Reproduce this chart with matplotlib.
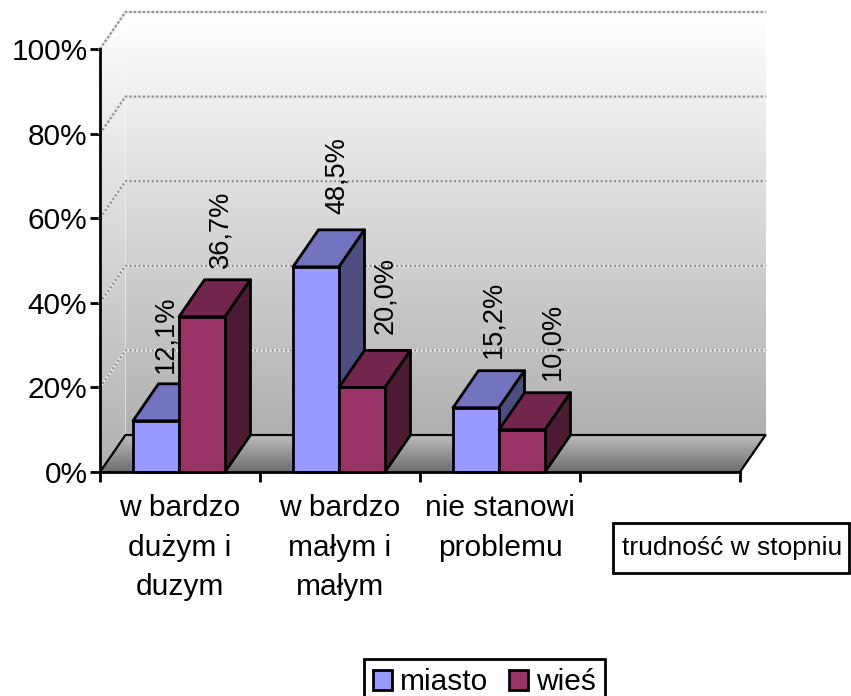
import numpy as np
import matplotlib
matplotlib.use('Agg')
from matplotlib import pyplot as plt
from matplotlib.colors import LinearSegmentedColormap
from matplotlib.patches import Polygon, Patch, Rectangle

plt.rcParams['font.family'] = ['Liberation Sans', 'DejaVu Sans']

categories = ['w bardzo\ndużym i\nduzym', 'w bardzo\nmałym i\nmałym', 'nie stanowi\nproblemu']
miasto = [12.1, 48.5, 15.2]
wies = [36.7, 20.0, 10.0]
miasto_labels = ['12,1%', '48,5%', '15,2%']
wies_labels = ['36,7%', '20,0%', '10,0%']
y_ticks = [0, 20, 40, 60, 80, 100]
y_tick_labels = ['0%', '20%', '40%', '60%', '80%', '100%']

W, H = 851, 696
fig = plt.figure(figsize=(W / 100, H / 100), dpi=100)
ax = fig.add_axes([100 / W, (H - 472) / H, 640 / W, 423 / H])
ax.set_xlim(0, 4)
ax.set_ylim(0, 100)

# depth of the fake 3d box, in data units
dx = 25.5 / 160
dy = 37 / 4.23
bar_w = 46 / 160
bar_start = 33 / 160
font = 21.5
label_font = 19.5

wall_cmap = LinearSegmentedColormap.from_list('wall', ['#b0b0b0', '#ffffff'])
floor_cmap = LinearSegmentedColormap.from_list('floor', ['#6e6e6e', '#bcbcbc'])
grad = np.linspace(0, 1, 256).reshape(-1, 1)

ax.imshow(grad, origin='lower', cmap=wall_cmap, aspect='auto', zorder=1, vmin=0, vmax=1,
          extent=(dx, 4 + dx, dy, 100 + dy), clip_on=False)
side = ax.imshow(grad, origin='lower', cmap=wall_cmap, aspect='auto', zorder=1, vmin=0, vmax=1,
                 extent=(0, dx, 0, 100 + dy))
side.set_clip_path(Polygon([(0, 0), (dx, dy), (dx, 100 + dy), (0, 100)], transform=ax.transData))
side.set_clip_box(fig.bbox)
floor = ax.imshow(grad, origin='lower', cmap=floor_cmap, aspect='auto', zorder=1, vmin=0, vmax=1,
                  extent=(0, 4 + dx, 0, dy))
floor.set_clip_path(Polygon([(0, 0), (4, 0), (4 + dx, dy), (dx, dy)], transform=ax.transData))
floor.set_clip_box(fig.bbox)
ax.set_xlim(0, 4)
ax.set_ylim(0, 100)

# gridlines on back and side wall
for t in y_ticks[1:]:
    ax.plot([0, dx, 4 + dx], [t, t + dy, t + dy], color='#e8e8e8', lw=2, zorder=2, clip_on=False)
    ax.plot([0, dx, 4 + dx], [t, t + dy, t + dy], color='#909090', lw=1.6, ls=(0, (1, 1)), zorder=2, clip_on=False)

# floor edges
ax.plot([0, dx, 4 + dx, 4], [0, dy, dy, 0], color='black', lw=1.6, zorder=3, clip_on=False)


def draw_bar(x, v, front, top, right):
    ec = dict(edgecolor='black', linewidth=2, joinstyle='round', zorder=5, clip_on=False)
    ax.add_patch(Polygon([(x, v), (x + bar_w, v), (x + bar_w + dx, v + dy), (x + dx, v + dy)], facecolor=top, **ec))
    ax.add_patch(Polygon([(x + bar_w, 0), (x + bar_w + dx, dy), (x + bar_w + dx, v + dy), (x + bar_w, v)], facecolor=right, **ec))
    ax.add_patch(Polygon([(x, 0), (x + bar_w, 0), (x + bar_w, v), (x, v)], facecolor=front, **ec))


for i in range(len(categories)):
    draw_bar(i + bar_start, miasto[i], '#9999ff', '#7373bf', '#4d4d80')
    draw_bar(i + bar_start + bar_w, wies[i], '#993366', '#73264d', '#4d1a33')

# value labels sit above the top of each bar, nudged by hand
miasto_nudge = [(9, 11), (21, 16), (17, 13)]
wies_nudge = [(18, 12), (23, 16), (30, 13)]
for i in range(len(categories)):
    for x, v, lab, n in [(i + bar_start + bar_w / 2, miasto[i], miasto_labels[i], miasto_nudge[i]),
                         (i + bar_start + bar_w * 1.5, wies[i], wies_labels[i], wies_nudge[i])]:
        ax.annotate(lab, (x, v + dy), xytext=n, textcoords='offset pixels', rotation=90,
                    ha='center', va='bottom', fontsize=label_font, color='black', zorder=6, annotation_clip=False)

for s in ['top', 'right']:
    ax.spines[s].set_visible(False)
for s in ['left', 'bottom']:
    ax.spines[s].set_linewidth(2)
    ax.spines[s].set_zorder(7)
ax.set_yticks(y_ticks)
ax.set_yticklabels(y_tick_labels, fontsize=font)
ax.set_xticks(range(5))
ax.set_xticklabels([])
ax.tick_params(axis='both', which='major', length=7, width=2, direction='out', pad=2)
ax.set_xticks([0.5, 1.5, 2.5], minor=True)
ax.set_xticklabels(categories, minor=True, fontsize=font, linespacing=1.52)
ax.tick_params(axis='x', which='minor', length=0, pad=16)

# axis caption box
fig.add_artist(Rectangle((613 / W, 1 - 573 / H), 236 / W, 50 / H, transform=fig.transFigure,
                         facecolor='white', edgecolor='black', linewidth=2))
fig.text(732 / W, 1 - 548 / H, 'trudność w stopniu', ha='center', va='center', fontsize=19)

handles = [Patch(facecolor='#9999ff', edgecolor='black', linewidth=2, label='miasto'),
           Patch(facecolor='#993366', edgecolor='black', linewidth=2, label='wieś')]
fig.legend(handles=handles, ncol=2, loc='lower left', bbox_to_anchor=(364 / W, -9 / H), borderaxespad=0,
           fontsize=font, frameon=True, fancybox=False, edgecolor='black', framealpha=1,
           handlelength=0.65, handleheight=0.65, handletextpad=0.25, columnspacing=0.7,
           borderpad=0.3).get_frame().set_linewidth(2)

fig.savefig('out.png', dpi=100)
